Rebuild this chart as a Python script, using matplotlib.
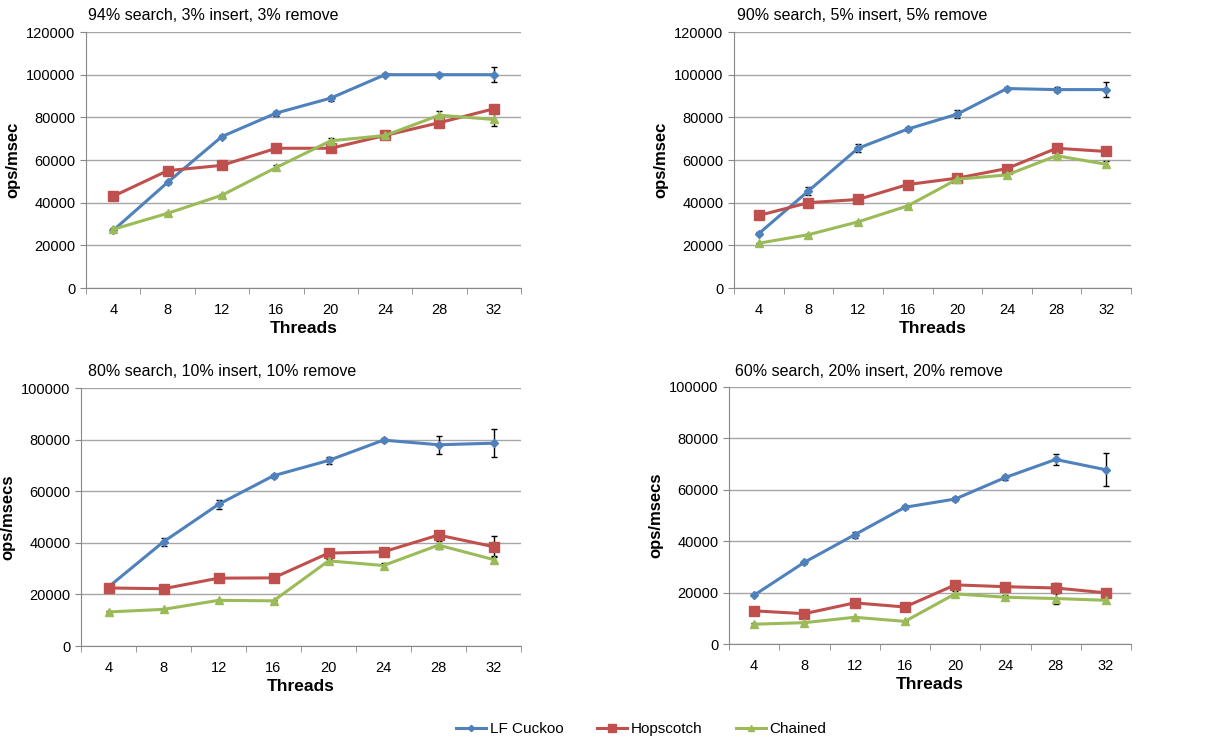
import matplotlib
matplotlib.use("Agg")
import matplotlib.pyplot as plt
import numpy as np

plt.rcParams['font.family'] = ['Liberation Sans', 'DejaVu Sans']

# Data
threads = ["4", "8", "12", "16", "20", "24", "28", "32"]
series_names = ["LF Cuckoo", "Hopscotch", "Chained"]

titles = ["94% search, 3% insert, 3% remove",
          "90% search, 5% insert, 5% remove",
          "80% search, 10% insert, 10% remove",
          "60% search, 20% insert, 20% remove"]
ylabels = ["ops/msec", "ops/msec", "ops/msecs", "ops/msecs"]
ymaxes = [120000, 120000, 100000, 100000]

cuckoo_94 = [27000, 49500, 71000, 82000, 89000, 100000, 100000, 100000]
hop_94 = [43000, 55000, 57500, 65500, 65500, 71500, 77500, 84000]
chained_94 = [27500, 35000, 43500, 56500, 69000, 71500, 81000, 79000]
cuckoo_94_err = [800, 800, 800, 1200, 1200, 600, 600, 3500]
hop_94_err = [500, 500, 500, 600, 1200, 1500, 800, 800]
chained_94_err = [500, 500, 500, 1000, 1200, 1500, 2000, 3000]

cuckoo_90 = [25500, 45500, 65500, 74500, 81500, 93500, 93000, 93000]
hop_90 = [34000, 40000, 41500, 48500, 51500, 56000, 65500, 64000]
chained_90 = [21000, 25000, 31000, 38500, 51000, 53000, 62000, 58000]
cuckoo_90_err = [800, 1800, 1800, 1000, 2000, 800, 1000, 3500]
hop_90_err = [500, 500, 500, 500, 600, 800, 800, 800]
chained_90_err = [300, 300, 500, 500, 700, 800, 1500, 1500]

cuckoo_80 = [22900, 40400, 54900, 66000, 71900, 79800, 78000, 78600]
hop_80 = [22500, 22200, 26300, 26400, 36000, 36500, 43000, 38500]
chained_80 = [13200, 14200, 17700, 17500, 33000, 31200, 39100, 33500]
cuckoo_80_err = [500, 1500, 1800, 800, 1500, 800, 3500, 5500]
hop_80_err = [300, 300, 300, 300, 1200, 500, 1000, 4000]
chained_80_err = [300, 300, 300, 300, 800, 1000, 1500, 1500]

cuckoo_60 = [19000, 31800, 42500, 53200, 56400, 64800, 71800, 67800]
hop_60 = [12900, 11800, 16000, 14400, 23000, 22300, 21800, 19900]
chained_60 = [7700, 8300, 10400, 8800, 19500, 18200, 17700, 17000]
cuckoo_60_err = [500, 500, 1200, 800, 800, 1000, 2000, 6500]
hop_60_err = [300, 300, 300, 300, 500, 500, 1800, 500]
chained_60_err = [300, 300, 300, 300, 1200, 1000, 2000, 1000]

panels = [
    ([cuckoo_94, hop_94, chained_94], [cuckoo_94_err, hop_94_err, chained_94_err]),
    ([cuckoo_90, hop_90, chained_90], [cuckoo_90_err, hop_90_err, chained_90_err]),
    ([cuckoo_80, hop_80, chained_80], [cuckoo_80_err, hop_80_err, chained_80_err]),
    ([cuckoo_60, hop_60, chained_60], [cuckoo_60_err, hop_60_err, chained_60_err]),
]

colors = ["#4F81BD", "#C0504D", "#9BBB59"]
markers = ["D", "s", "^"]
msizes = [4, 6.5, 6]

W, H = 1222, 740
# axes boxes in pixels: left, top, right, bottom
boxes = [(86, 32, 521, 288), (734, 32, 1131, 288),
         (81, 388, 521, 646), (729, 387, 1131, 644)]
title_pos = [(88, 15), (737, 15), (88, 372), (735, 372)]

fig = plt.figure(figsize=(W / 100, H / 100), dpi=100)

x = np.arange(len(threads))
handles = []
for i, (vals, errs) in enumerate(panels):
    l, t, r, b = boxes[i]
    ax = fig.add_axes([l / W, 1 - b / H, (r - l) / W, (b - t) / H])
    for j in range(3):
        ax.errorbar(x, vals[j], yerr=errs[j], fmt='none', ecolor='black',
                    elinewidth=1, capsize=2.5, capthick=1, zorder=2)
    for j in range(3):
        line, = ax.plot(x, vals[j], color=colors[j], marker=markers[j],
                        markersize=msizes[j], linewidth=2.2, zorder=3 + j * 0.1,
                        label=series_names[j])
        if i == 0:
            handles.append(line)
    ax.set_xlim(-0.5, len(threads) - 0.5)
    ax.set_ylim(0, ymaxes[i])
    ax.set_yticks(np.arange(0, ymaxes[i] + 1, 20000))
    ax.set_xticks(x)
    ax.set_xticklabels(threads)
    ax.set_xticks(np.arange(-0.5, len(threads)), minor=True)
    ax.tick_params(axis='x', which='major', length=0, labelsize=10.5, pad=11)
    ax.tick_params(axis='x', which='minor', length=4, color='#888888')
    ax.tick_params(axis='y', length=4, color='#888888', labelsize=10.5)
    ax.grid(axis='y', color='#A6A6A6', linewidth=1)
    ax.set_axisbelow(True)
    for s in ['top', 'right']:
        ax.spines[s].set_visible(False)
    for s in ['left', 'bottom']:
        ax.spines[s].set_color('#888888')
    ax.set_ylabel(ylabels[i], fontsize=12, fontweight='bold')
    ax.set_xlabel("Threads", fontsize=12.5, fontweight='bold', labelpad=3)
    tx, ty = title_pos[i]
    fig.text(tx / W, 1 - ty / H, titles[i], fontsize=11.5, va='center', ha='left')

fig.legend(handles=handles, loc='center', bbox_to_anchor=(641 / W, 1 - 729 / H),
           ncol=3, frameon=False, fontsize=11, handlelength=2.0,
           columnspacing=2.2, handletextpad=0.2, markerscale=0.8)

fig.savefig("out.png", dpi=100)
